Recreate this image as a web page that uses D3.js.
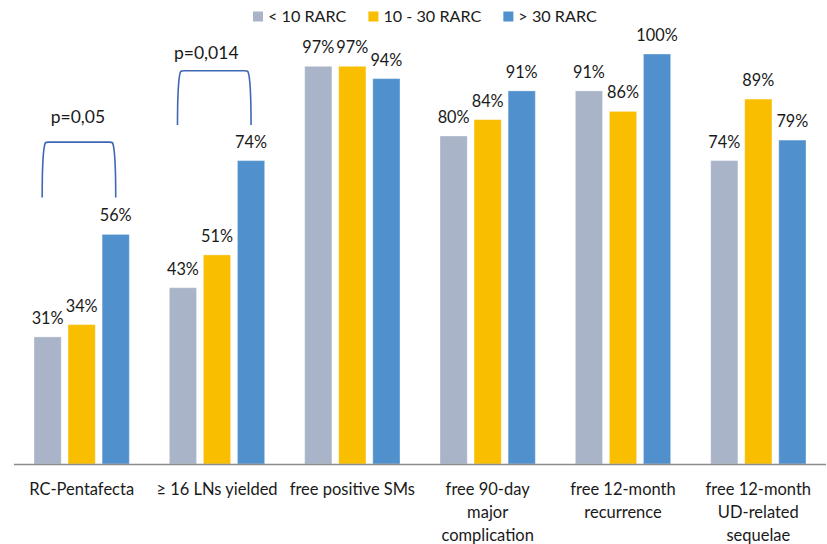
<!DOCTYPE html>
<html lang="en">
<head>
  <meta charset="UTF-8">
  <title>RARC outcomes</title>
  <script src="https://d3js.org/d3.v7.min.js"></script>
  <style>
    body {
      margin: 0;
      padding: 0;
      background: #fff;
    }
    svg text {
      font-family: Lato, "Open Sans", sans-serif;
      fill: #1a1a1a;
    }
    .val { font-size: 16.3px; text-anchor: middle; }
    .cat { font-size: 16.5px; text-anchor: middle; }
    .leg { font-size: 16.2px; }
    .pval { font-size: 17.5px; text-anchor: middle; }
  </style>
</head>
<body>
  <script>
    const categories = [
      ["RC-Pentafecta"],
      ["≥ 16 LNs yielded"],
      ["free positive SMs"],
      ["free 90-day", "major", "complication"],
      ["free 12-month", "recurrence"],
      ["free 12-month", "UD-related", "sequelae"]
    ];
    const seriesNames = ["< 10 RARC", "10 - 30 RARC", "> 30 RARC"];
    const seriesColors = ["#A9B4C8", "#F9BE00", "#5091CD"];
    const lt10 = [31, 43, 97, 80, 91, 74];
    const mid10to30 = [34, 51, 97, 84, 86, 89];
    const gt30 = [56, 74, 94, 91, 100, 79];

    // significance brackets (values in % of the y scale)
    const brackets = [
      { cat: 0, label: "p=0,05", top: 78.5, bottom: 65, labelY: 83.2, dx: -1 },
      { cat: 1, label: "p=0,014", top: 95.9, bottom: 82.7, labelY: 98.9, dx: -8 }
    ];

    const width = 827, height = 544;
    const left = 14, right = 826, baseY = 464, topY = 54;

    const svg = d3.select("body").append("svg")
      .attr("width", width)
      .attr("height", height);

    const x0 = d3.scaleBand()
      .domain(d3.range(categories.length))
      .range([left, right]);

    const x1 = d3.scaleBand()
      .domain(d3.range(seriesNames.length))
      .range([20, x0.bandwidth() - 20])
      .paddingInner(0.2);

    const y = d3.scaleLinear()
      .domain([0, 100])
      .range([baseY, topY]);

    const series = [lt10, mid10to30, gt30];
    const rows = [];
    series.forEach((vals, s) => vals.forEach((v, c) => rows.push({ s, c, v })));

    const bars = svg.append("g");
    bars.selectAll("rect")
      .data(rows)
      .join("rect")
      .attr("x", d => x0(d.c) + x1(d.s))
      .attr("y", d => y(d.v))
      .attr("width", x1.bandwidth())
      .attr("height", d => y(0) - y(d.v))
      .attr("fill", d => seriesColors[d.s])
      .attr("stroke", "#fff")
      .attr("stroke-opacity", 0.35)
      .attr("stroke-width", 1);

    svg.append("g").selectAll("text")
      .data(rows)
      .join("text")
      .attr("class", "val")
      .attr("x", d => x0(d.c) + x1(d.s) + x1.bandwidth() / 2)
      .attr("y", d => y(d.v) - 13)
      .text(d => d.v + "%");

    // axis line
    svg.append("line")
      .attr("x1", left).attr("x2", right)
      .attr("y1", baseY + 0.5).attr("y2", baseY + 0.5)
      .attr("stroke", "#8c8c8c")
      .attr("stroke-width", 1.5);

    // category labels
    const catG = svg.append("g").selectAll("text")
      .data(categories)
      .join("text")
      .attr("class", "cat")
      .attr("x", (d, i) => x0(i) + x0.bandwidth() / 2)
      .attr("y", baseY + 31);
    catG.selectAll("tspan")
      .data(d => d)
      .join("tspan")
      .attr("x", function () { return d3.select(this.parentNode).attr("x"); })
      .attr("dy", (d, i) => i === 0 ? 0 : 23)
      .text(d => d);

    // brackets
    const bg = svg.append("g");
    brackets.forEach(b => {
      const xl = x0(b.cat) + x1(0) + x1.bandwidth() * 0.3;
      const xr = x0(b.cat) + x1(2) + x1.bandwidth() / 2;
      const yt = y(b.top), yb = y(b.bottom);
      const r = 5;
      const p = d3.path();
      p.moveTo(xl, yb);
      p.bezierCurveTo(xl, yb - (yb - yt) * 0.5, xl + 1.5, yt + r, xl + 3, yt + 1);
      p.quadraticCurveTo(xl + 3.5, yt, xl + r + 2, yt);
      p.lineTo(xr - r - 2, yt);
      p.quadraticCurveTo(xr - 3.5, yt, xr - 3, yt + 1);
      p.bezierCurveTo(xr - 1.5, yt + r, xr, yb - (yb - yt) * 0.5, xr, yb);
      bg.append("path")
        .attr("d", p.toString())
        .attr("fill", "none")
        .attr("stroke", "#3E68B4")
        .attr("stroke-width", 1.6);
      bg.append("text")
        .attr("class", "pval")
        .attr("x", (xl + xr) / 2 + b.dx)
        .attr("y", y(b.labelY))
        .text(b.label);
    });

    // legend
    const leg = svg.append("g");
    let lx = 253;
    seriesNames.forEach((name, i) => {
      leg.append("rect")
        .attr("x", lx).attr("y", 11.5)
        .attr("width", 10).attr("height", 10)
        .attr("fill", seriesColors[i]);
      const t = leg.append("text")
        .attr("class", "leg")
        .attr("x", lx + 15)
        .attr("y", 21.5)
        .text(name);
      lx += 15 + t.node().getComputedTextLength() + 22;
    });
  </script>
</body>
</html>
